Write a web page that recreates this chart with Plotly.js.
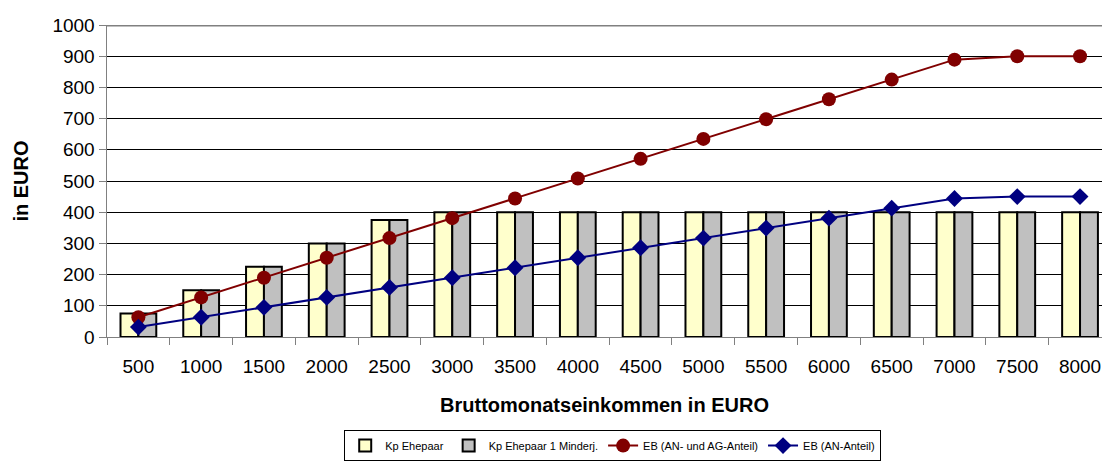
<!DOCTYPE html>
<html><head><meta charset="utf-8">
<script src="https://cdn.plot.ly/plotly-3.0.1.min.js"></script>
<style>html,body{margin:0;padding:0;background:#fff}#c{width:1102px;height:462px}</style>
</head><body><div id="c"></div>
<script>
const categories = ["500","1000","1500","2000","2500","3000","3500","4000","4500","5000","5500","6000","6500","7000","7500","8000"];
const kpEhepaar = [75,150,225,300,375,400,400,400,400,400,400,400,400,400,400,400];
const kpEhepaarMinderj = [75,150,225,300,375,400,400,400,400,400,400,400,400,400,400,400];
const ebANAG = [63.5,127,190,254,317,381,444,508,571,635,698,762,825,889,900,900];
const ebAN = [31.75,63.5,95,127,159,190,222,254,286,317,349,381,413,444,450,450];

const F = "Liberation Sans, Arial, sans-serif";
const traces = [
  {type:"bar", name:"Kp Ehepaar", x:categories, y:kpEhepaar,
   marker:{color:"#FFFFCC", line:{color:"#000", width:2}}},
  {type:"bar", name:"Kp Ehepaar 1 Minderj.", x:categories, y:kpEhepaarMinderj,
   marker:{color:"#C0C0C0", line:{color:"#000", width:2}}},
  {type:"scatter", mode:"lines+markers", name:"EB (AN- und AG-Anteil)", x:categories, y:ebANAG,
   line:{color:"#800000", width:2}, marker:{symbol:"circle", size:14, color:"#800000"}},
  {type:"scatter", mode:"lines+markers", name:"EB (AN-Anteil)", x:categories, y:ebAN,
   line:{color:"#000080", width:2}, marker:{symbol:"diamond", size:13, color:"#000080"}}
];
const layout = {
  width:1102, height:462,
  margin:{l:107, r:0, t:25, b:125},
  paper_bgcolor:"#fff", plot_bgcolor:"#fff",
  font:{family:F, color:"#000", size:18},
  barmode:"group", bargap:0.43, bargroupgap:0,
  showlegend:true,
  legend:{orientation:"h", xref:"container", x:0.556, xanchor:"center", yref:"container", y:0.002, yanchor:"bottom",
    font:{family:F, size:11}, bordercolor:"#000", borderwidth:1, bgcolor:"#fff",
    tracegroupgap:0},
  xaxis:{type:"category", range:[-0.5,15.35], tickson:"boundaries", ticks:"outside", ticklen:7,
    tickcolor:"#808080", showline:true, linecolor:"#808080", linewidth:1, showgrid:false,
    ticklabelstandoff:12, tickfont:{family:F, size:19},
    title:{text:"<b>Bruttomonatseinkommen in EURO</b>", font:{family:F, size:20}, standoff:22}},
  yaxis:{range:[0,1000], dtick:100, ticks:"outside", ticklen:7, tickcolor:"#808080",
    showline:true, linecolor:"#808080", linewidth:1.5, showgrid:true, gridcolor:"#000", gridwidth:1,
    zeroline:false, tickfont:{family:F, size:19},
    title:{text:"<b>in EURO</b>", font:{family:F, size:20}, standoff:18}},
  shapes:[{type:"line", xref:"paper", yref:"y", x0:0, x1:1, y0:1000, y1:1000, line:{color:"#808080", width:3}}]
};
Plotly.newPlot("c", traces, layout, {displayModeBar:false, staticPlot:true});
</script></body></html>
